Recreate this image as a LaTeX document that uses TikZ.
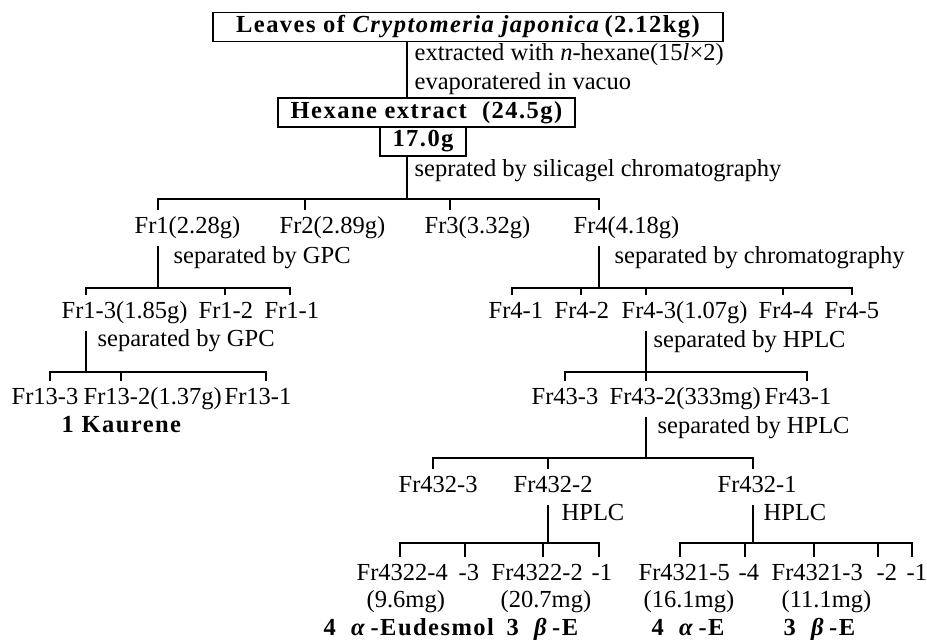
\documentclass[tikz,border=0pt]{standalone}
\usepackage{fontspec}
\setmainfont{Liberation Serif}
\newfontfamily\spacedfont[LetterSpace=6]{Liberation Serif}
\newcommand\chartsize{\fontsize{24.5}{28}\selectfont}

\tikzset{
    frac/.style = {anchor=west, inner xsep=1pt, inner ysep=6pt, text height=17pt, text depth=6pt},
    note/.style = {anchor=west, inner sep=1pt, text height=17pt, text depth=6pt},
    cpd/.style = {anchor=west, inner sep=1pt, text height=17pt, text depth=6pt, font=\spacedfont\chartsize\bfseries},
    boxed/.style = {draw, inner sep=2pt, minimum height=29pt, font=\spacedfont\chartsize\bfseries}
}

\begin{document}
\begin{tikzpicture}[x=1pt, y=-1pt, line width=1.4pt, font=\chartsize]

                \useasboundingbox (0,0) rectangle (927,640);

                % crude extract
                \node[boxed, minimum width=510pt] (leaves) at (468,27) {Leaves of \textit{Cryptomeria japonica}\,(2.12kg)};
                \node[note] (extract) at (413,55) {extracted with \textit{n}-hexane(15\textit{l}×2)};
                \node[note] (evap) at (413,84) {evaporatered in vacuo};
                \node[boxed, minimum width=297pt] (hexane) at (426.5,112.5) {Hexane extract\ \ (24.5g)};
                \node[boxed, minimum width=86pt] (used) at (423,141.5) {17.0g};
                \node[note] (silica) at (413,171) {seprated by silicagel chromatography};
                \coordinate (main) at (407,199);
                \draw (leaves.south -| main) -- (hexane.north -| main);
                \draw (used.south -| main) -- (main);

                % silica gel fractions
                \coordinate (tfr1) at (158,199);
                \coordinate (tfr2) at (305,199);
                \coordinate (tfr3) at (450,199);
                \coordinate (tfr4) at (599,199);
                \node[frac] (fr1) at (133,228) {Fr1(2.28g)};
                \node[frac] (fr2) at (278,228) {Fr2(2.89g)};
                \node[frac] (fr3) at (423,228) {Fr3(3.32g)};
                \node[frac] (fr4) at (572,228) {Fr4(4.18g)};
                \draw (tfr1 |- fr1.north) -- (tfr1) -- (tfr4) -- (tfr4 |- fr4.north);
                \draw (tfr2) -- (tfr2 |- fr2.north) (tfr3) -- (tfr3 |- fr3.north);

                % Fr1 by GPC
                \node[note] (gpc1) at (172,258) {separated by GPC};
                \coordinate (tfr13) at (86,288);
                \coordinate (tfr12) at (225,288);
                \coordinate (tfr11) at (290,288);
                \node[frac] (fr13) at (60,313) {Fr1-3(1.85g)};
                \node[frac] (fr12) at (197,313) {Fr1-2};
                \node[frac] (fr11) at (263,313) {Fr1-1};
                \draw (tfr1 |- fr1.south) -- (tfr1 |- tfr13);
                \draw (tfr13 |- fr13.north) -- (tfr13) -- (tfr11) -- (tfr11 |- fr11.north);
                \draw (tfr12) -- (tfr12 |- fr12.north);

                % Fr1-3 by GPC
                \node[note] (gpc2) at (96,341) {separated by GPC};
                \coordinate (tfr133) at (50,372);
                \coordinate (tfr132) at (121,372);
                \coordinate (tfr131) at (266,372);
                \node[frac] (fr133) at (10,399) {Fr13-3};
                \node[frac] (fr132) at (82,399) {Fr13-2(1.37g)};
                \node[frac] (fr131) at (223,399) {Fr13-1};
                \node[cpd] (kaurene) at (60,427) {1\ Kaurene};
                \draw (tfr13 |- fr13.south) -- (tfr13 |- tfr133);
                \draw (tfr133 |- fr133.north) -- (tfr133) -- (tfr131) -- (tfr131 |- fr131.north);
                \draw (tfr132) -- (tfr132 |- fr132.north);

                % Fr4 by chromatography
                \node[note] (chrom) at (613,258) {separated by chromatography};
                \coordinate (tfr41) at (512,288);
                \coordinate (tfr42) at (581,288);
                \coordinate (tfr43) at (646,288);
                \coordinate (tfr44) at (783,288);
                \coordinate (tfr45) at (852,288);
                \node[frac] (fr41) at (487,313) {Fr4-1};
                \node[frac] (fr42) at (553,313) {Fr4-2};
                \node[frac] (fr43) at (620,313) {Fr4-3(1.07g)};
                \node[frac] (fr44) at (757,313) {Fr4-4};
                \node[frac] (fr45) at (823,313) {Fr4-5};
                \draw (tfr4 |- fr4.south) -- (tfr4 |- tfr41);
                \draw (tfr41 |- fr41.north) -- (tfr41) -- (tfr45) -- (tfr45 |- fr45.north);
                \draw (tfr42) -- (tfr42 |- fr42.north) (tfr43) -- (tfr43 |- fr43.north)
                      (tfr44) -- (tfr44 |- fr44.north);

                % Fr4-3 by HPLC
                \node[note] (hplc1) at (652,342) {separated by HPLC};
                \coordinate (tfr433) at (565,372);
                \coordinate (tfr432) at (646,372);
                \coordinate (tfr431) at (807,372);
                \node[frac] (fr433) at (530,399) {Fr43-3};
                \node[frac] (fr432) at (608,399) {Fr43-2(333mg)};
                \node[frac] (fr431) at (763,399) {Fr43-1};
                \draw (tfr43 |- fr43.south) -- (tfr43 |- tfr433);
                \draw (tfr433 |- fr433.north) -- (tfr433) -- (tfr431) -- (tfr431 |- fr431.north);
                \draw (tfr432) -- (tfr432 |- fr432.north);

                % Fr43-2 by HPLC
                \node[note] (hplc2) at (656,428) {separated by HPLC};
                \coordinate (tfr4323) at (433,458);
                \coordinate (tfr4322) at (548,458);
                \coordinate (tfr4321) at (753,458);
                \node[frac] (fr4323) at (397,487) {Fr432-3};
                \node[frac] (fr4322) at (512,487) {Fr432-2};
                \node[frac] (fr4321) at (716,487) {Fr432-1};
                \draw (tfr432 |- fr432.south) -- (tfr432 |- tfr4323);
                \draw (tfr4323 |- fr4323.north) -- (tfr4323) -- (tfr4321) -- (tfr4321 |- fr4321.north);
                \draw (tfr4322) -- (tfr4322 |- fr4322.north);

                % Fr432-2 by HPLC
                \node[note] (hplc3) at (560,515) {HPLC};
                \coordinate (tfr43224) at (400,543);
                \coordinate (tfr43223) at (465,543);
                \coordinate (tfr43222) at (543,543);
                \coordinate (tfr43221) at (599,543);
                \node[frac] (fr43224) at (355,575) {Fr4322-4};
                \node[frac] (fr43223) at (457,575) {-3};
                \node[frac] (fr43222) at (490,575) {Fr4322-2};
                \node[frac] (fr43221) at (590,575) {-1};
                \draw (tfr4322 |- fr4322.south) -- (tfr4322 |- tfr43224);
                \draw (tfr43224 |- fr43224.north) -- (tfr43224) -- (tfr43221) -- (tfr43221 |- fr43221.north);
                \draw (tfr43223) -- (tfr43223 |- fr43223.north) (tfr43222) -- (tfr43222 |- fr43222.north);

                % Fr432-1 by HPLC
                \node[note] (hplc4) at (762,515) {HPLC};
                \coordinate (tfr43215) at (680,543);
                \coordinate (tfr43214) at (745,543);
                \coordinate (tfr43213) at (814,543);
                \coordinate (tfr43212) at (878,543);
                \coordinate (tfr43211) at (912,543);
                \node[frac] (fr43215) at (637,575) {Fr4321-5};
                \node[frac] (fr43214) at (737,575) {-4};
                \node[frac] (fr43213) at (770,575) {Fr4321-3};
                \node[frac] (fr43212) at (875,575) {-2};
                \node[frac] (fr43211) at (905,575) {-1};
                \draw (tfr4321 |- fr4321.south) -- (tfr4321 |- tfr43215);
                \draw (tfr43215 |- fr43215.north) -- (tfr43215) -- (tfr43211) -- (tfr43211 |- fr43211.north);
                \draw (tfr43214) -- (tfr43214 |- fr43214.north) (tfr43213) -- (tfr43213 |- fr43213.north)
                      (tfr43212) -- (tfr43212 |- fr43212.north);

                % yields and compounds
                \node[note] (mg1) at (365,602) {(9.6mg)};
                \node[note] (mg2) at (499,602) {(20.7mg)};
                \node[note] (mg3) at (642,602) {(16.1mg)};
                \node[note] (mg4) at (780,602) {(11.1mg)};
                \node[cpd] (eud4a) at (322,630) {4\ \ \textit{α}\,-Eudesmol};
                \node[cpd] (eud3b) at (505,630) {3\ \ \textit{β}\,-E};
                \node[cpd] (e4a) at (650,630) {4\ \ \textit{α}\,-E};
                \node[cpd] (e3b) at (782,630) {3\ \ \textit{β}\,-E};
            \end{tikzpicture}
\end{document}
